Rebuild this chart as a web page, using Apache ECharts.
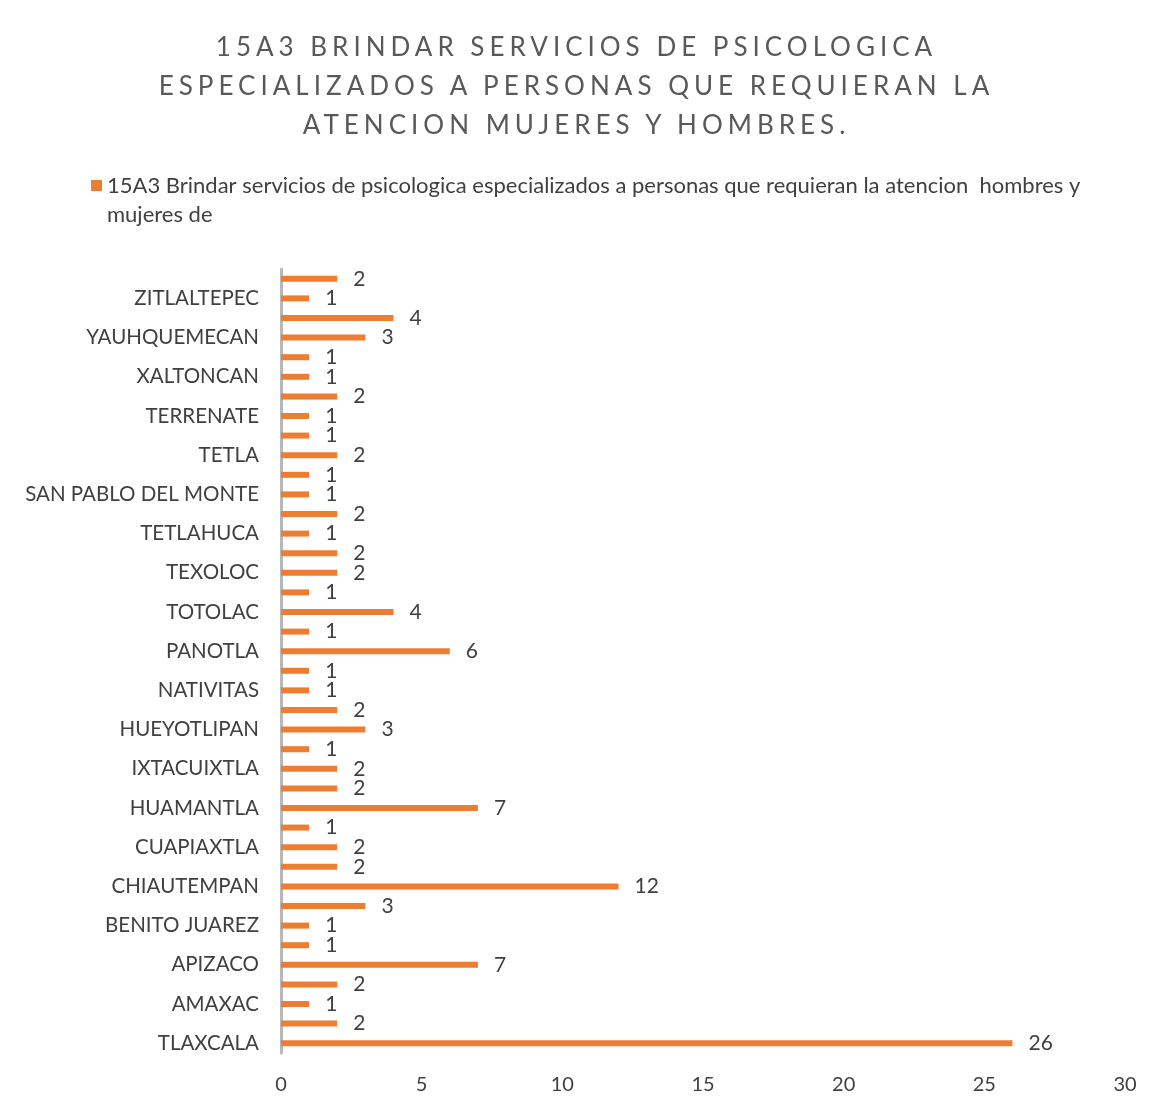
<!DOCTYPE html>
<html>
<head>
<meta charset="utf-8">
<script src="https://cdn.jsdelivr.net/npm/echarts@6/dist/echarts.min.js"></script>
<style>
  body { margin: 0; background: #fff; }
  .wrap { position: relative; width: 1159px; height: 1110px; }
  .chart-title {
    position: absolute; left: -3px; top: 27px; width: 1159px;
    text-align: center; font-family: Lato, 'Open Sans', sans-serif;
    font-size: 26px; line-height: 39px; letter-spacing: 5px; color: #595959;
  }
  #chart { position: absolute; left: 0; top: 0; width: 1159px; height: 1110px; }
</style>
</head>
<body>
<div class="wrap">
  <div id="chart"></div>
  <div class="chart-title">15A3 BRINDAR SERVICIOS DE PSICOLOGICA<br>ESPECIALIZADOS A PERSONAS QUE REQUIERAN LA<br>ATENCION MUJERES Y HOMBRES.</div>
</div>
<script>
// municipios, de abajo hacia arriba (solo se ven los pares)
const municipios = [
  'TLAXCALA', 'ACUAMANALA', 'AMAXAC', 'APETATITLAN', 'APIZACO', 'ATLTZAYANCA',
  'BENITO JUAREZ', 'CALPULALPAN', 'CHIAUTEMPAN', 'CONTLA', 'CUAPIAXTLA', 'EL CARMEN',
  'HUAMANTLA', 'IXTENCO', 'IXTACUIXTLA', 'MAZATECOCHCO', 'HUEYOTLIPAN', 'NANACAMILPA',
  'NATIVITAS', 'PAPALOTLA', 'PANOTLA', 'TEPETITLA', 'TOTOLAC', 'TEPEYANCO',
  'TEXOLOC', 'TENANCINGO', 'TETLAHUCA', 'SANTA CRUZ', 'SAN PABLO DEL MONTE', 'TEOLOCHOLCO',
  'TETLA', 'TLAXCO', 'TERRENATE', 'TZOMPANTEPEC', 'XALTONCAN', 'XICOHTZINCO',
  'YAUHQUEMECAN', 'ZACATELCO', 'ZITLALTEPEC', 'XALOZTOC'
]
const atenciones = [
  26, 2, 1, 2, 7, 1, 1, 3, 12, 2,
  2, 1, 7, 2, 2, 1, 3, 2, 1, 1,
  6, 1, 4, 1, 2, 2, 1, 2, 1, 1,
  2, 1, 1, 2, 1, 1, 3, 4, 1, 2
]
const xTicks = [0, 5, 10, 15, 20, 25, 30]
const serieNombre = '15A3 Brindar servicios de psicologica especializados a personas que requieran la atencion  hombres y mujeres de'

const font = 'Lato, "Open Sans", sans-serif'
const chart = echarts.init(document.getElementById('chart'))

const option = {
  animation: false,
  legend: {
    left: 86,
    top: 137,
    itemWidth: 11,
    itemHeight: 11,
    icon: 'rect',
    data: [serieNombre],
    // linea vacia delante para que el cuadrito quede junto a la primera linea
    formatter: name => '\n' + name,
    textStyle: {
      fontFamily: font,
      fontSize: 22,
      color: '#404040',
      lineHeight: 29,
      width: 1000,
      overflow: 'break'
    }
  },
  grid: {
    left: 281,
    right: 34,
    top: 269,
    bottom: 57
  },
  xAxis: {
    type: 'value',
    min: xTicks[0],
    max: xTicks[xTicks.length - 1],
    interval: 5,
    axisLine: { show: false },
    axisTick: { show: false },
    splitLine: { show: false },
    axisLabel: {
      margin: 22,
      fontFamily: font,
      fontSize: 20,
      color: '#404040'
    }
  },
  yAxis: {
    type: 'category',
    data: municipios,
    axisLine: { show: true, lineStyle: { color: '#b8b8b8', width: 3 } },
    axisTick: { show: false },
    axisLabel: {
      interval: 1,
      margin: 22,
      fontFamily: font,
      fontSize: 20.5,
      color: '#404040'
    }
  },
  series: [
    {
      name: serieNombre,
      type: 'bar',
      data: atenciones,
      barWidth: 6,
      itemStyle: { color: '#ED7D31' },
      label: {
        show: true,
        position: 'right',
        distance: 16,
        fontFamily: font,
        fontSize: 21,
        color: '#404040'
      }
    }
  ]
}

chart.setOption(option)
</script>
</body>
</html>
